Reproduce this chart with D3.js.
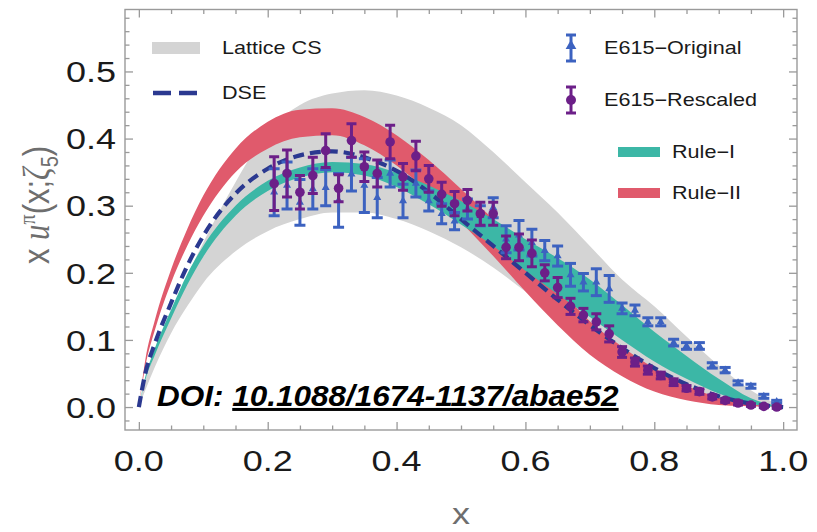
<!DOCTYPE html>
<html><head><meta charset="utf-8">
<script src="https://cdn.jsdelivr.net/npm/d3@7"></script>
<style>body{margin:0;background:#fff}svg{display:block}</style>
</head><body>
<svg id="chart" width="817" height="532"></svg>
<script>
// ---- data ----
const xGrid = [0, 0.01, 0.025, 0.05, 0.075, 0.1, 0.15, 0.2, 0.25, 0.3, 0.35, 0.4, 0.45, 0.5, 0.55, 0.6, 0.65, 0.7, 0.75, 0.8, 0.85, 0.9, 0.95, 1.0];
const dse = [0, 0.05, 0.095, 0.155, 0.21, 0.255, 0.318, 0.355, 0.375, 0.381, 0.372, 0.352, 0.32, 0.28, 0.24, 0.2, 0.16, 0.122, 0.088, 0.058, 0.034, 0.016, 0.005, 0];
const rule1Low = [0, 0.04, 0.078, 0.132, 0.182, 0.224, 0.285, 0.322, 0.342, 0.35, 0.345, 0.328, 0.302, 0.272, 0.24, 0.203, 0.168, 0.134, 0.1, 0.068, 0.042, 0.02, 0.005, 0];
const rule1High = [0, 0.045, 0.088, 0.145, 0.198, 0.24, 0.3, 0.337, 0.357, 0.365, 0.362, 0.349, 0.33, 0.307, 0.28, 0.25, 0.222, 0.19, 0.152, 0.112, 0.076, 0.042, 0.013, 0];
const rule2Low = [0, 0.06, 0.115, 0.185, 0.24, 0.285, 0.35, 0.385, 0.402, 0.405, 0.39, 0.36, 0.32, 0.275, 0.225, 0.172, 0.122, 0.078, 0.046, 0.023, 0.01, 0.003, 0.001, 0];
const rule2High = [0, 0.07, 0.13, 0.205, 0.265, 0.315, 0.385, 0.425, 0.443, 0.445, 0.432, 0.405, 0.368, 0.325, 0.28, 0.23, 0.178, 0.128, 0.09, 0.058, 0.032, 0.014, 0.004, 0];
const latticeLow = [0, 0.025, 0.06, 0.11, 0.15, 0.185, 0.232, 0.262, 0.28, 0.29, 0.29, 0.28, 0.262, 0.238, 0.208, 0.172, 0.135, 0.1, 0.07, 0.045, 0.025, 0.011, 0.003, 0];
const latticeHigh = [0, 0.04, 0.08, 0.14, 0.195, 0.245, 0.335, 0.41, 0.45, 0.467, 0.472, 0.464, 0.446, 0.42, 0.38, 0.335, 0.29, 0.24, 0.19, 0.15, 0.105, 0.062, 0.025, 0];

const xData = [0.21,0.23,0.25,0.27,0.29,0.31,0.33,0.35,0.37,0.39,0.41,0.43,0.45,0.47,0.49,0.51,0.53,0.55,0.57,0.59,0.61,0.63,0.65,0.67,0.69,0.71,0.73,0.75,0.77,0.79,0.81,0.83,0.85,0.87,0.89,0.91,0.93,0.95,0.97,0.99];
const origVal = [0.32,0.33,0.305,0.325,0.327,0.308,0.347,0.33,0.312,0.348,0.307,0.333,0.307,0.288,0.277,0.295,0.285,0.297,0.25,0.256,0.245,0.233,0.225,0.197,0.186,0.186,0.176,0.147,0.144,0.127,0.127,0.096,0.091,0.091,0.062,0.055,0.036,0.031,0.016,0.008];
const origErr = [0.035,0.035,0.034,0.03,0.027,0.04,0.025,0.04,0.03,0.02,0.025,0.02,0.015,0.015,0.013,0.015,0.015,0.015,0.02,0.022,0.02,0.015,0.015,0.017,0.013,0.02,0.02,0.008,0.008,0.006,0.006,0.005,0.005,0.005,0.004,0.004,0.003,0.003,0.003,0.002];
const resVal = [0.333,0.348,0.32,0.345,0.382,0.326,0.397,0.358,0.348,0.395,0.343,0.374,0.34,0.317,0.303,0.308,0.288,0.288,0.238,0.238,0.229,0.2,0.178,0.15,0.137,0.127,0.109,0.082,0.067,0.055,0.047,0.037,0.028,0.023,0.015,0.01,0.006,0.003,0.001,0.0];
const resErr = [0.04,0.035,0.025,0.027,0.025,0.02,0.025,0.022,0.02,0.025,0.02,0.022,0.02,0.018,0.018,0.016,0.017,0.017,0.017,0.02,0.02,0.012,0.015,0.012,0.01,0.012,0.012,0.008,0.006,0.006,0.005,0.005,0.004,0.004,0.003,0.003,0.003,0.002,0.002,0.002];

const xTicks = [0, 0.2, 0.4, 0.6, 0.8, 1.0];
const yTicks = [0, 0.1, 0.2, 0.3, 0.4, 0.5];
const legendLeft = ["Lattice CS", "DSE"];
const legendRight = ["E615\u2212Original", "E615\u2212Rescaled", "Rule\u2212I", "Rule\u2212II"];
const doiPrefix = "DOI: ";
const doiLink = "10.1088/1674-1137/abae52";

// ---- colours ----
const C = {gray:"#d4d4d4", teal:"#3cb7a6", red:"#e05a6c", dse:"#2b3990", blue:"#3c62c0", purple:"#6c1f88", frame:"#9a9a9a", text:"#1a1a1a", label:"#6e6e6e"};

const svg = d3.select("#chart");
const L = 125, R = 797, T = 9.5, B = 430;
const x = d3.scaleLinear().domain([-0.0215, 1.0215]).range([L, R]);
const y = d3.scaleLinear().domain([-0.0342, 0.5923]).range([B, T]);

svg.append("clipPath").attr("id","clip").append("rect").attr("x",L).attr("y",T).attr("width",R-L).attr("height",B-T);
const plot = svg.append("g").attr("clip-path","url(#clip)");

function band(lo, hi, color){
  const a = d3.area().x((d,i)=>x(xGrid[i])).y0((d,i)=>y(lo[i])).y1((d,i)=>y(hi[i])).curve(d3.curveMonotoneX);
  plot.append("path").datum(xGrid).attr("d", a).attr("fill", color);
}
band(latticeLow, latticeHigh, C.gray);
band(rule2Low, rule2High, C.red);
band(rule1Low, rule1High, C.teal);

plot.append("path").datum(xGrid)
  .attr("d", d3.line().x((d,i)=>x(xGrid[i])).y((d,i)=>y(dse[i])).curve(d3.curveMonotoneX))
  .attr("fill","none").attr("stroke",C.dse).attr("stroke-width",4.2).attr("stroke-dasharray","11,6");

function errorBars(vals, errs, color, capW, marker){
  const g = plot.append("g");
  xData.forEach((xv,i)=>{
    const cx = x(xv), y1 = y(vals[i]-errs[i]), y2 = y(vals[i]+errs[i]);
    g.append("line").attr("x1",cx).attr("x2",cx).attr("y1",y1).attr("y2",y2).attr("stroke",color).attr("stroke-width",3);
    [y1,y2].forEach(yy=>g.append("line").attr("x1",cx-capW/2).attr("x2",cx+capW/2).attr("y1",yy).attr("y2",yy).attr("stroke",color).attr("stroke-width",3));
    if(marker==="circle") g.append("circle").attr("cx",cx).attr("cy",y(vals[i])).attr("r",4.8).attr("fill",color);
    else g.append("path").attr("d", d3.symbol(d3.symbolTriangle, 28)()).attr("transform",`translate(${cx},${y(vals[i])})`).attr("fill",color);
  });
}
errorBars(origVal, origErr, C.blue, 11, "triangle");
errorBars(resVal, resErr, C.purple, 10, "circle");

// ---- frame & ticks ----
const axG = svg.append("g").attr("color", C.frame);
function ticks(axisFn, vals, size, transform){
  axG.append("g").attr("transform", transform)
    .call(axisFn.tickValues(vals).tickSize(size).tickFormat(""))
    .call(g=>g.select(".domain").remove())
    .call(g=>g.selectAll("line").attr("stroke-width",1.3));
}
const xMinor = d3.range(0, 1.0001, 0.05).filter(v=>Math.abs(v*5-Math.round(v*5))>1e-6);
const yMinor = d3.range(-0.02, 0.5801, 0.02).filter(v=>Math.abs(v*10-Math.round(v*10))>1e-6);
ticks(d3.axisBottom(x), xTicks, -8, `translate(0,${B})`);
ticks(d3.axisBottom(x), xMinor, -4.5, `translate(0,${B})`);
ticks(d3.axisTop(x), xTicks, -8, `translate(0,${T})`);
ticks(d3.axisTop(x), xMinor, -4.5, `translate(0,${T})`);
ticks(d3.axisLeft(y), yTicks, -8, `translate(${L},0)`);
ticks(d3.axisLeft(y), yMinor, -4.5, `translate(${L},0)`);
ticks(d3.axisRight(y), yTicks, -8, `translate(${R},0)`);
ticks(d3.axisRight(y), yMinor, -4.5, `translate(${R},0)`);
svg.append("rect").attr("x",L).attr("y",T).attr("width",R-L).attr("height",B-T)
  .attr("fill","none").attr("stroke",C.frame).attr("stroke-width",1.4);

const FONT = "'Liberation Sans', Arial, Helvetica, sans-serif";
const SX = 1.2;
function stretched(px, py, txt, size, anchor, color){
  return svg.append("text").attr("transform",`translate(${px},${py}) scale(${SX},1)`)
    .attr("text-anchor",anchor).attr("font-family",FONT).attr("font-size",size)
    .attr("fill",color).attr("dy","0.36em").text(txt);
}
xTicks.forEach(v=>stretched(x(v), 460, d3.format(".1f")(v), 30, "middle", C.text));
yTicks.forEach(v=>stretched(116, y(v), d3.format(".1f")(v), 30, "end", C.text));

// axis titles
svg.append("text").attr("transform",`translate(${x(0.5)},513) scale(${SX},1)`).attr("text-anchor","middle")
  .attr("font-family",FONT).attr("font-size",30).attr("fill",C.label).attr("dy","0.36em").text("x");
const yl = svg.append("text").attr("transform",`translate(36,205) rotate(-90) scale(1,${SX})`)
  .attr("text-anchor","middle").attr("font-family",FONT).attr("font-size",31).attr("fill",C.label).attr("dy","0.36em");
yl.append("tspan").text("x ");
yl.append("tspan").attr("font-family","'Liberation Serif', serif").attr("font-style","italic").text("u");
yl.append("tspan").attr("font-size",20).attr("dy",-12).attr("font-family","'Liberation Serif', serif").text("\u03c0");
yl.append("tspan").attr("dy",12).text("(x;");
yl.append("tspan").attr("font-family","'Liberation Serif', serif").attr("font-style","italic").text("\u03b6");
yl.append("tspan").attr("font-size",20).attr("dy",7).text("5");
yl.append("tspan").attr("dy",-7).text(")");

// ---- legend ----
const lg = svg.append("g");
lg.append("rect").attr("x",152).attr("y",42).attr("width",48).attr("height",12).attr("fill",C.gray);
lg.append("line").attr("x1",153).attr("x2",201).attr("y1",93).attr("y2",93).attr("stroke",C.dse).attr("stroke-width",4.5).attr("stroke-dasharray","18,8");
[48,93].forEach((yy,i)=>stretched(222, yy, legendLeft[i], 18, "start", C.text));

function legBar(cx, yc, color, marker){
  lg.append("line").attr("x1",cx).attr("x2",cx).attr("y1",yc-13).attr("y2",yc+13).attr("stroke",color).attr("stroke-width",3);
  [yc-13,yc+13].forEach(yy=>lg.append("line").attr("x1",cx-5).attr("x2",cx+5).attr("y1",yy).attr("y2",yy).attr("stroke",color).attr("stroke-width",3));
  if(marker==="circle") lg.append("circle").attr("cx",cx).attr("cy",yc).attr("r",5).attr("fill",color);
  else lg.append("path").attr("d",d3.symbol(d3.symbolTriangle,50)()).attr("transform",`translate(${cx},${yc-2})`).attr("fill",color);
}
legBar(571, 48, C.blue, "triangle");
legBar(571, 100, C.purple, "circle");
lg.append("rect").attr("x",618).attr("y",147).attr("width",42).attr("height",10).attr("fill",C.teal);
lg.append("rect").attr("x",618).attr("y",188).attr("width",42).attr("height",10).attr("fill",C.red);
stretched(604, 48, legendRight[0], 18, "start", C.text);
stretched(604, 100, legendRight[1], 18, "start", C.text);
stretched(672, 152, legendRight[2], 18, "start", C.text);
stretched(672, 193, legendRight[3], 18, "start", C.text);

// ---- DOI watermark ----
const doi = svg.append("text").attr("transform","translate(157,406) scale(1.05,1)").attr("font-family",FONT).attr("font-size",30)
  .attr("font-weight","bold").attr("font-style","italic").attr("fill","#000");
doi.append("tspan").text(doiPrefix);
doi.append("tspan").attr("text-decoration","underline").text(doiLink);
</script>
</body></html>
